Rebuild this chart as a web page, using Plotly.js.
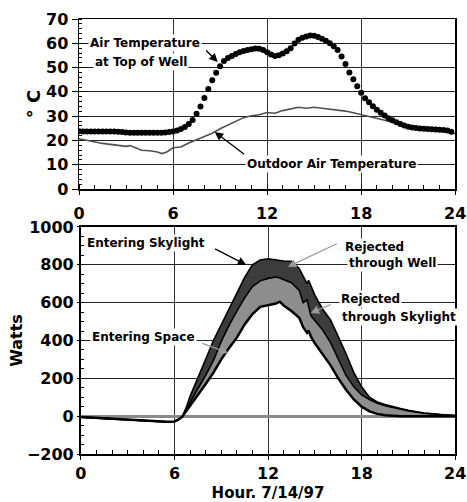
<!DOCTYPE html>
<html>
<head>
<meta charset="utf-8">
<script src="https://cdn.plot.ly/plotly-3.0.1.min.js"></script>
<style>html,body{margin:0;padding:0;background:#fff;}#chart{width:467px;height:502px;}</style>
</head>
<body>
<div id="chart"></div>
<script>
// ---- Top chart: temperatures (°C) ----
const wellHours = [0,0.25,0.5,0.75,1,1.25,1.5,1.75,2,2.25,2.5,2.75,3,3.25,3.5,3.75,4,4.25,4.5,4.75,5,5.25,5.5,5.75,
  6,6.25,6.5,6.75,7,7.25,7.5,7.75,8,8.25,8.5,8.75,9,9.25,9.5,9.75,10,10.25,10.5,10.75,11,11.25,11.5,11.75,
  12,12.25,12.5,12.75,13,13.25,13.5,13.75,14,14.25,14.5,14.75,15,15.25,15.5,15.75,16,16.25,16.5,16.75,17,17.25,17.5,17.75,
  18,18.25,18.5,18.75,19,19.25,19.5,19.75,20,20.25,20.5,20.75,21,21.25,21.5,21.75,22,22.25,22.5,22.75,23,23.25,23.5,23.75];
const wellTemp = [23.8,23.7,23.7,23.7,23.7,23.7,23.7,23.7,23.7,23.7,23.6,23.5,23.3,23.2,23.2,23.2,23.2,23.2,23.2,23.2,23.2,23.2,23.3,23.5,
  23.7,24.1,24.7,25.6,26.8,28.4,31.0,34.0,37.5,41.2,44.8,47.9,50.6,52.7,54.0,54.8,55.6,56.3,56.8,57.2,57.6,57.9,57.8,57.2,
  56.3,55.4,54.8,55.1,55.8,56.7,58.0,59.9,61.5,62.3,62.8,63.2,63.1,62.6,61.9,61.0,60.0,58.8,57.2,54.6,51.5,48.0,45.2,42.3,
  39.6,37.4,35.7,34.1,32.7,31.4,30.3,29.2,28.3,27.5,26.8,26.2,25.7,25.3,25.1,24.9,24.8,24.7,24.6,24.5,24.4,24.3,24.1,23.6];
const outdoorHours = [0,0.5,1,1.5,2,2.5,3,3.25,3.5,4,4.5,5,5.3,5.6,6,6.5,7,7.5,8,8.5,9,9.5,10,10.5,11,11.5,12,12.5,13,13.5,14,14.5,15,15.5,16,16.5,17,17.5,18,18.5,19,19.5,20,20.5,21,21.5,22,22.5,23,23.5,24];
const outdoorTemp = [20.7,20.0,19.3,18.8,18.4,18.0,17.6,17.9,17.3,16.0,15.8,15.3,14.6,15.3,17.0,17.3,19.0,20.3,21.5,23.0,24.8,26.3,28.0,29.4,30.2,30.6,31.5,31.2,32.3,33.0,33.7,33.3,33.7,33.3,33.0,32.6,32.1,31.4,30.7,30.0,29.2,28.3,27.4,26.7,26.0,25.5,25.1,24.8,24.4,23.8,22.8];

// ---- Bottom chart: power (Watts) ----
const powerHours = [0,0.5,1,1.5,2,2.5,3,3.5,4,4.5,5,5.5,6,6.25,6.5,6.75,7,7.5,8,8.5,9,9.5,10,10.5,11,11.5,12,12.5,12.75,13,13.5,14,14.25,14.5,14.6,14.75,15,15.5,16,16.5,17,17.5,18,18.5,19,19.5,20,20.5,21,22,23,23.5,24];
const enteringSkylight = [-5,-7,-10,-12,-15,-17,-19,-21,-24,-26,-28,-30,-28,-18,-3,45,105,200,300,400,485,570,650,733,800,825,832,825,822,820,818,780,740,700,718,685,640,565,510,420,330,230,155,100,75,62,50,40,31,17,8,5,3];
const afterWellLoss = [-5,-7,-10,-12,-15,-17,-19,-21,-24,-26,-28,-30,-28,-18,-3,35,75,145,215,295,395,480,555,625,685,715,728,735,730,722,705,665,600,615,580,530,505,455,390,300,215,155,112,88,68,55,45,36,28,15,7,4,3];
const enteringSpace = [-5,-7,-10,-12,-15,-17,-19,-21,-24,-26,-28,-30,-28,-18,-3,25,55,110,170,230,300,360,415,485,540,578,588,595,605,585,556,520,470,440,452,420,385,330,270,200,140,88,50,25,12,5,2,0,0,0,0,0,0];

// ---- Labels ----
const hourTicks = [0,6,12,18,24];
const xTitle = 'Hour. 7/14/97';
const topYTitle = '° C';
const bottomYTitle = 'Watts';

const FONT = 'DejaVu Sans, Verdana, sans-serif';
const bold = (size) => ({family: FONT, size: size, color: '#000', weight: 'bold'});

const traces = [
  {x: outdoorHours, y: outdoorTemp, xaxis: 'x', yaxis: 'y', mode: 'lines',
   line: {color: '#505050', width: 1.6}, hoverinfo: 'skip'},
  {x: wellHours, y: wellTemp, xaxis: 'x', yaxis: 'y', mode: 'markers',
   marker: {color: '#000', size: 6}, hoverinfo: 'skip'},
  {x: powerHours, y: enteringSpace, xaxis: 'x2', yaxis: 'y2', mode: 'lines',
   line: {color: '#000', width: 2.5}, hoverinfo: 'skip'},
  {x: powerHours, y: afterWellLoss, xaxis: 'x2', yaxis: 'y2', mode: 'lines', fill: 'tonexty',
   fillcolor: '#8e8e8e', line: {color: '#000', width: 1.6}, hoverinfo: 'skip'},
  {x: powerHours, y: enteringSkylight, xaxis: 'x2', yaxis: 'y2', mode: 'lines', fill: 'tonexty',
   fillcolor: '#3c3c3c', line: {color: '#000', width: 1.6}, hoverinfo: 'skip'}
];

const xCommon = {
  range: [0, 24], tickvals: hourTicks, showgrid: true, gridcolor: '#333', gridwidth: 1,
  linecolor: '#000', linewidth: 1.5, mirror: true, ticks: 'outside', ticklen: 4, tickcolor: '#000',
  zeroline: false, tickfont: bold(16), ticklabeloverflow: 'allow',
  minor: {dtick: 1, ticks: 'inside', ticklen: 4, tickcolor: '#000', showgrid: false}
};

const txt = (text, x, y, xref, yref, xanchor) => ({
  text: text, x: x, y: y, xref: xref, yref: yref, showarrow: false,
  xanchor: xanchor || 'center', yanchor: 'middle', bgcolor: '#fff', borderpad: 1, font: bold(12)
});
const arrow = (xTip, yTip, xTail, yTail, xref, yref, color) => ({
  x: xTip, y: yTip, ax: xTail, ay: yTail, xref: xref, yref: yref, axref: xref, ayref: yref,
  showarrow: true, arrowhead: 2, arrowsize: 1.3, arrowwidth: 1.3, arrowcolor: color, standoff: 0
});

const layout = {
  width: 467, height: 502,
  margin: {l: 79, r: 8, t: 19, b: 48},
  paper_bgcolor: '#fff', plot_bgcolor: '#fff',
  showlegend: false,
  font: bold(12),
  xaxis: Object.assign({}, xCommon, {domain: [0, 0.99], anchor: 'y', ticklabelstandoff: 5}),
  yaxis: {
    domain: [0.609, 1], anchor: 'x', range: [0, 70], dtick: 10,
    showgrid: true, gridcolor: '#222', gridwidth: 1, zeroline: false,
    linecolor: '#000', linewidth: 1.5, mirror: true, ticks: 'outside', ticklen: 6, tickcolor: '#000',
    tickfont: bold(16),
    minor: {dtick: 2, ticks: 'inside', ticklen: 3, tickcolor: '#000', showgrid: false},
    title: {text: topYTitle, font: bold(18), standoff: 0}
  },
  xaxis2: Object.assign({}, xCommon, {domain: [0.005, 0.99], anchor: 'y2',
    title: {text: xTitle, font: bold(15), standoff: 13}}),
  yaxis2: {
    domain: [0, 0.522], anchor: 'x2', range: [-200, 1000], dtick: 200,
    showgrid: true, gridcolor: '#222', gridwidth: 1,
    zeroline: true, zerolinecolor: '#8a8a8a', zerolinewidth: 3,
    linecolor: '#000', linewidth: 2, mirror: true, ticks: 'outside', ticklen: 2, tickcolor: '#000',
    tickfont: bold(16),
    minor: {dtick: 50, ticks: 'inside', ticklen: 3, tickcolor: '#000', showgrid: false},
    title: {text: bottomYTitle, font: bold(16), standoff: 0}
  },
  annotations: [
    txt('Air Temperature', 4.2, 60.1, 'x', 'y'),
    txt('at Top of Well', 3.95, 52.3, 'x', 'y'),
    txt('Outdoor Air Temperature', 16.14, 10.3, 'x', 'y'),
    arrow(8.85, 52.3, 7.89, 58.5, 'x', 'y', '#000'),
    arrow(8.66, 23.5, 10.76, 13.2, 'x', 'y', '#000'),
    txt('Entering Skylight', 4.19, 915, 'x2', 'y2'),
    txt('Rejected', 16.8, 894, 'x2', 'y2', 'left'),
    txt('through Well', 17.05, 810, 'x2', 'y2', 'left'),
    txt('Rejected', 16.55, 620, 'x2', 'y2', 'left'),
    txt('through Skylight', 16.6, 524, 'x2', 'y2', 'left'),
    txt('Entering Space', 4.0, 419, 'x2', 'y2'),
    arrow(10.6, 799, 8.38, 894, 'x2', 'y2', '#000'),
    arrow(13.27, 789, 16.63, 920, 'x2', 'y2', '#999'),
    arrow(14.73, 545, 16.25, 598, 'x2', 'y2', '#999'),
    arrow(9.46, 334, 7.56, 392, 'x2', 'y2', '#999')
  ]
};

Plotly.newPlot('chart', traces, layout, {staticPlot: true, displayModeBar: false});
</script>
</body>
</html>
